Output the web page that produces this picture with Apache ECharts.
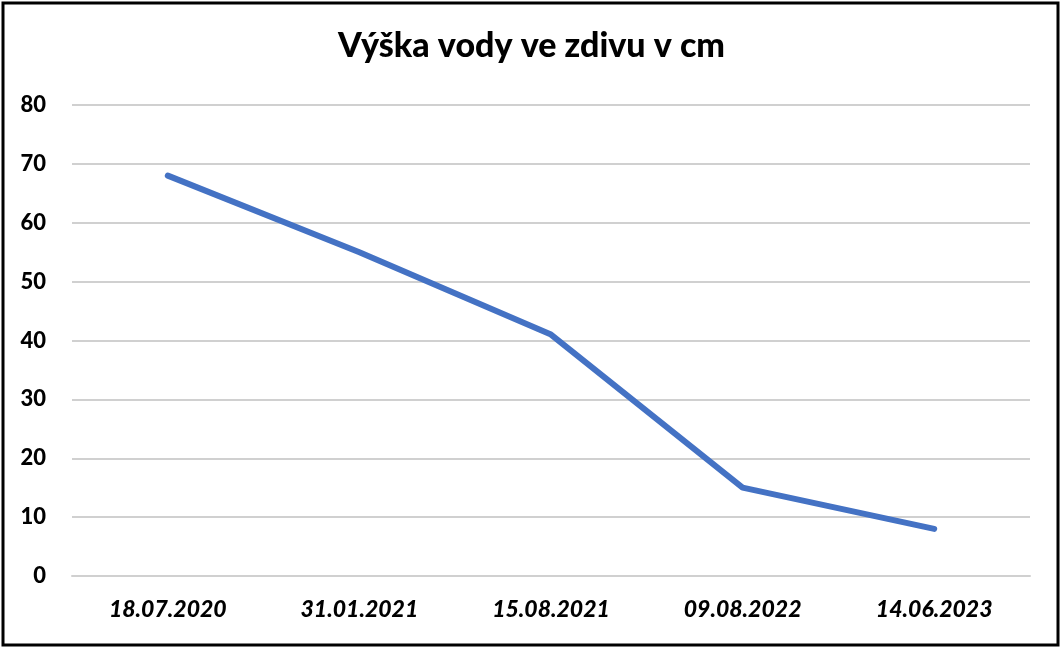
<!DOCTYPE html>
<html><head><meta charset="utf-8">
<script src="https://cdn.jsdelivr.net/npm/echarts@6/dist/echarts.min.js"></script>
<style>html,body{margin:0;padding:0;background:#fff}#c{width:1063px;height:649px}</style>
</head><body><div id="c"></div>
<script>
const categories = ['18.07.2020', '31.01.2021', '15.08.2021', '09.08.2022', '14.06.2023'];
const values = [68, 55, 41, 15, 8];
const yMin = 0, yMax = 80, yStep = 10;
const title = 'Výška vody ve zdivu v cm';

const chart = echarts.init(document.getElementById('c'));
chart.setOption({
  animation: false,
  backgroundColor: '#fff',
  title: {
    text: title, left: 'center', top: 24,
    textStyle: { fontFamily: 'Lato', fontWeight: 900, fontSize: 34, color: '#000' }
  },
  graphic: [{
    type: 'rect', shape: { x: 3, y: 3, width: 1055, height: 642 },
    style: { fill: 'none', stroke: '#000', lineWidth: 3 }, z: 100
  }],
  grid: { left: 72, right: 33, top: 105, bottom: 73, containLabel: false },
  xAxis: {
    type: 'category', data: categories, boundaryGap: true,
    axisLine: { lineStyle: { color: '#d0d0d0', width: 2 } },
    axisTick: { show: false },
    axisLabel: { margin: 22, color: '#000', fontFamily: 'Lato', fontWeight: 900, fontStyle: 'italic', fontSize: 23 }
  },
  yAxis: {
    type: 'value', min: yMin, max: yMax, interval: yStep,
    axisLine: { show: false }, axisTick: { show: false },
    splitLine: { lineStyle: { color: '#d0d0d0', width: 2 } },
    axisLabel: { margin: 26, color: '#000', fontFamily: 'Lato', fontWeight: 900, fontSize: 22 }
  },
  series: [{
    type: 'line', data: values, symbol: 'none',
    lineStyle: { color: '#4472C4', width: 6, cap: 'round', join: 'round' }
  }]
});
</script></body></html>
